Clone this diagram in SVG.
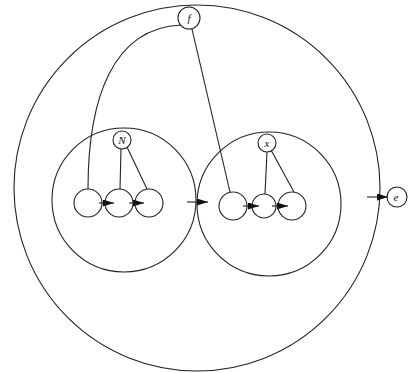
<svg xmlns="http://www.w3.org/2000/svg" width="408" height="373" viewBox="0 0 408 373">
<style>
.c{fill:none;stroke:#222;stroke-width:1.1}
.n{fill:#fff;stroke:#222;stroke-width:1.1}
.l{fill:none;stroke:#222;stroke-width:1.1}
.t{font-family:"Liberation Serif",serif;font-style:italic;font-size:11px;fill:#111;text-anchor:middle}
</style>
<defs>
<marker id="ah" markerWidth="11" markerHeight="7" refX="11" refY="3.5" orient="auto" markerUnits="userSpaceOnUse">
<path d="M0,0 L11,3.5 L0,7 Z" fill="#111"/>
</marker>
</defs>
<rect width="408" height="373" fill="#fff"/>
<g id="regions">
<circle class="c" cx="197" cy="188" r="183"/>
<circle class="c" cx="124" cy="200" r="72"/>
<circle class="c" cx="269" cy="204" r="72"/>
</g>
<g id="connectors">
<path class="l" d="M181,25 C112,28 88,100 88,189"/>
<line class="l" x1="192" y1="29" x2="230" y2="192"/>
<line class="l" x1="121" y1="149" x2="120" y2="189"/>
<line class="l" x1="127" y1="147" x2="147" y2="189"/>
<line class="l" x1="267" y1="152" x2="265" y2="194"/>
<line class="l" x1="271" y1="150" x2="294" y2="192"/>
<line class="l" x1="99" y1="203" x2="114" y2="203" marker-end="url(#ah)"/>
<line class="l" x1="129" y1="203" x2="144" y2="203" marker-end="url(#ah)"/>
<line class="l" x1="187" y1="202" x2="208" y2="202" marker-end="url(#ah)"/>
<line class="l" x1="243" y1="206" x2="259" y2="206" marker-end="url(#ah)"/>
<line class="l" x1="272" y1="206" x2="288" y2="206" marker-end="url(#ah)"/>
<line class="l" x1="367" y1="197" x2="388" y2="197" marker-end="url(#ah)"/>
</g>
<g id="node-f"><circle class="n" cx="189" cy="18" r="11"/><text class="t" x="189" y="22">f</text></g>
<g id="node-N"><circle class="n" cx="122" cy="140" r="9"/><text class="t" x="122" y="144">N</text></g>
<g id="node-x"><circle class="n" cx="267" cy="143" r="9"/><text class="t" x="267" y="147">x</text></g>
<g id="node-e"><circle class="c" cx="397" cy="197" r="10"/><text class="t" x="396" y="201">e</text></g>
<g id="node-l1"><circle class="c" cx="88" cy="203" r="14"/></g>
<g id="node-l2"><circle class="c" cx="119" cy="203" r="14"/></g>
<g id="node-l3"><circle class="c" cx="149" cy="203" r="14"/></g>
<g id="node-r1"><circle class="c" cx="233" cy="206" r="14"/></g>
<g id="node-r2"><circle class="c" cx="264" cy="206" r="12"/></g>
<g id="node-r3"><circle class="c" cx="292" cy="206" r="14"/></g>
</svg>
